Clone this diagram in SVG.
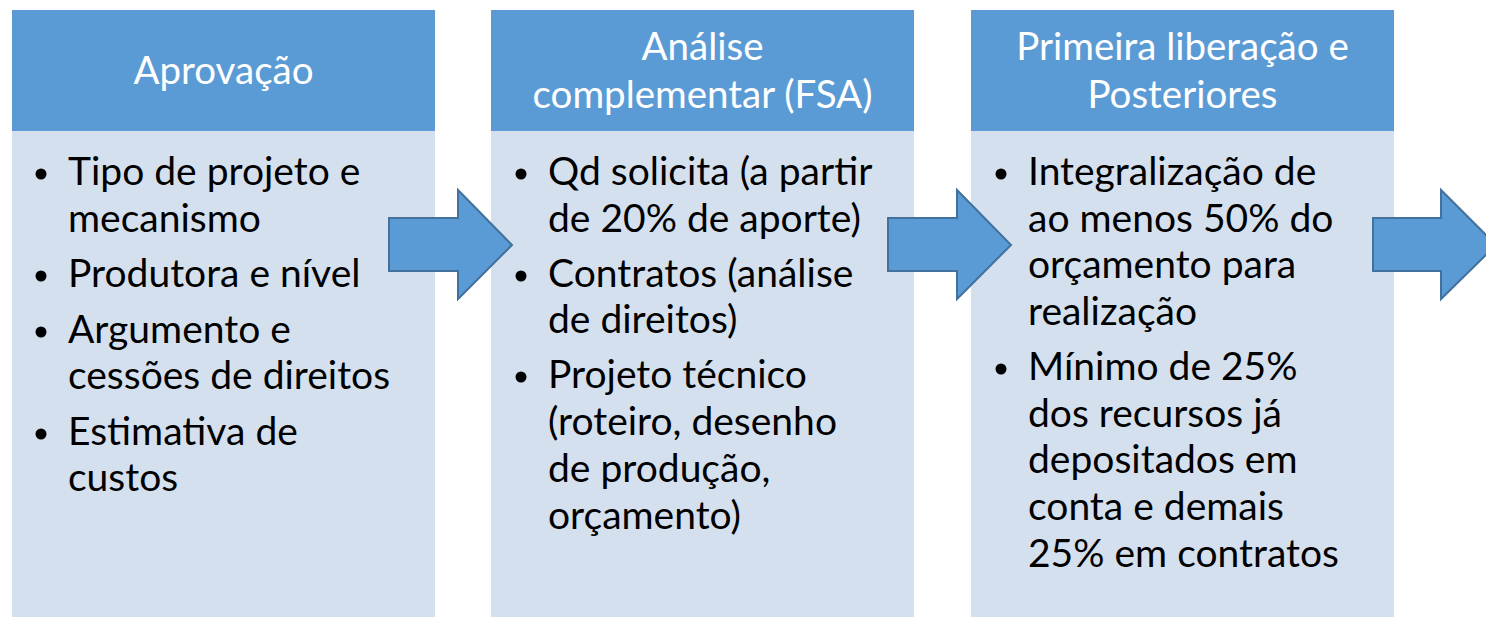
<svg xmlns="http://www.w3.org/2000/svg" width="1486" height="617" viewBox="0 0 1486 617">
<style>
.hdr{fill:#5B9BD5}
.body{fill:#D5E0EF}
.ht{font-family:Lato,"Open Sans","Liberation Sans",sans-serif;font-size:38.5px;fill:#FFFFFF;text-anchor:middle}
.bt{font-family:Lato,"Open Sans","Liberation Sans",sans-serif;font-size:39px;fill:#000000}
.dot{fill:#000000}
.arrow{fill:#5B9BD5;stroke:#41719C;stroke-width:2;stroke-linejoin:miter}
</style>
<rect width="1486" height="617" fill="#FFFFFF"/>
<g id="node-aprovacao">
<rect class="hdr" x="12" y="10" width="423" height="121"/>
<rect class="body" x="12" y="131" width="423" height="486"/>
<text class="ht" x="223.5" y="84">Aprovação</text>
<circle class="dot" cx="41" cy="174" r="5.5"/>
<circle class="dot" cx="41" cy="276" r="5.5"/>
<circle class="dot" cx="41" cy="332" r="5.5"/>
<circle class="dot" cx="41" cy="434" r="5.5"/>
<text class="bt" x="68" y="185">Tipo de projeto e</text>
<text class="bt" x="68" y="232">mecanismo</text>
<text class="bt" x="68" y="287">Produtora e nível</text>
<text class="bt" x="68" y="343">Argumento e</text>
<text class="bt" x="68" y="389">cessões de direitos</text>
<text class="bt" x="68" y="445">Estimativa de</text>
<text class="bt" x="68" y="491">custos</text>
</g>
<g id="node-analise">
<rect class="hdr" x="491" y="10" width="423" height="121"/>
<rect class="body" x="491" y="131" width="423" height="486"/>
<text class="ht" x="702.5" y="60">Análise</text>
<text class="ht" x="702.5" y="108">complementar (FSA)</text>
<circle class="dot" cx="521" cy="174" r="5.5"/>
<circle class="dot" cx="521" cy="276" r="5.5"/>
<circle class="dot" cx="521" cy="377" r="5.5"/>
<text class="bt" x="548" y="185">Qd solicita (a partir</text>
<text class="bt" x="548" y="232">de 20% de aporte)</text>
<text class="bt" x="548" y="287">Contratos (análise</text>
<text class="bt" x="548" y="333">de direitos)</text>
<text class="bt" x="548" y="388">Projeto técnico</text>
<text class="bt" x="548" y="435">(roteiro, desenho</text>
<text class="bt" x="548" y="482">de produção,</text>
<text class="bt" x="548" y="529">orçamento)</text>
</g>
<g id="node-liberacao">
<rect class="hdr" x="971" y="10" width="423" height="121"/>
<rect class="body" x="971" y="131" width="423" height="486"/>
<text class="ht" x="1182.5" y="60">Primeira liberação e</text>
<text class="ht" x="1182.5" y="108">Posteriores</text>
<circle class="dot" cx="1001" cy="174" r="5.5"/>
<circle class="dot" cx="1001" cy="369" r="5.5"/>
<text class="bt" x="1028" y="185">Integralização de</text>
<text class="bt" x="1028" y="232">ao menos 50% do</text>
<text class="bt" x="1028" y="278">orçamento para</text>
<text class="bt" x="1028" y="325">realização</text>
<text class="bt" x="1028" y="380">Mínimo de 25%</text>
<text class="bt" x="1028" y="427">dos recursos já</text>
<text class="bt" x="1028" y="473">depositados em</text>
<text class="bt" x="1028" y="520">conta e demais</text>
<text class="bt" x="1028" y="567">25% em contratos</text>
</g>
<g id="connectors">
<polygon class="arrow" points="389,218 458,218 458,190 512,245 458,299 458,271 389,271"/>
<polygon class="arrow" points="888,218 957,218 957,190 1011,245 957,299 957,271 888,271"/>
<polygon class="arrow" points="1373,218 1441,218 1441,190 1496,245 1441,299 1441,271 1373,271"/>
</g>
</svg>
